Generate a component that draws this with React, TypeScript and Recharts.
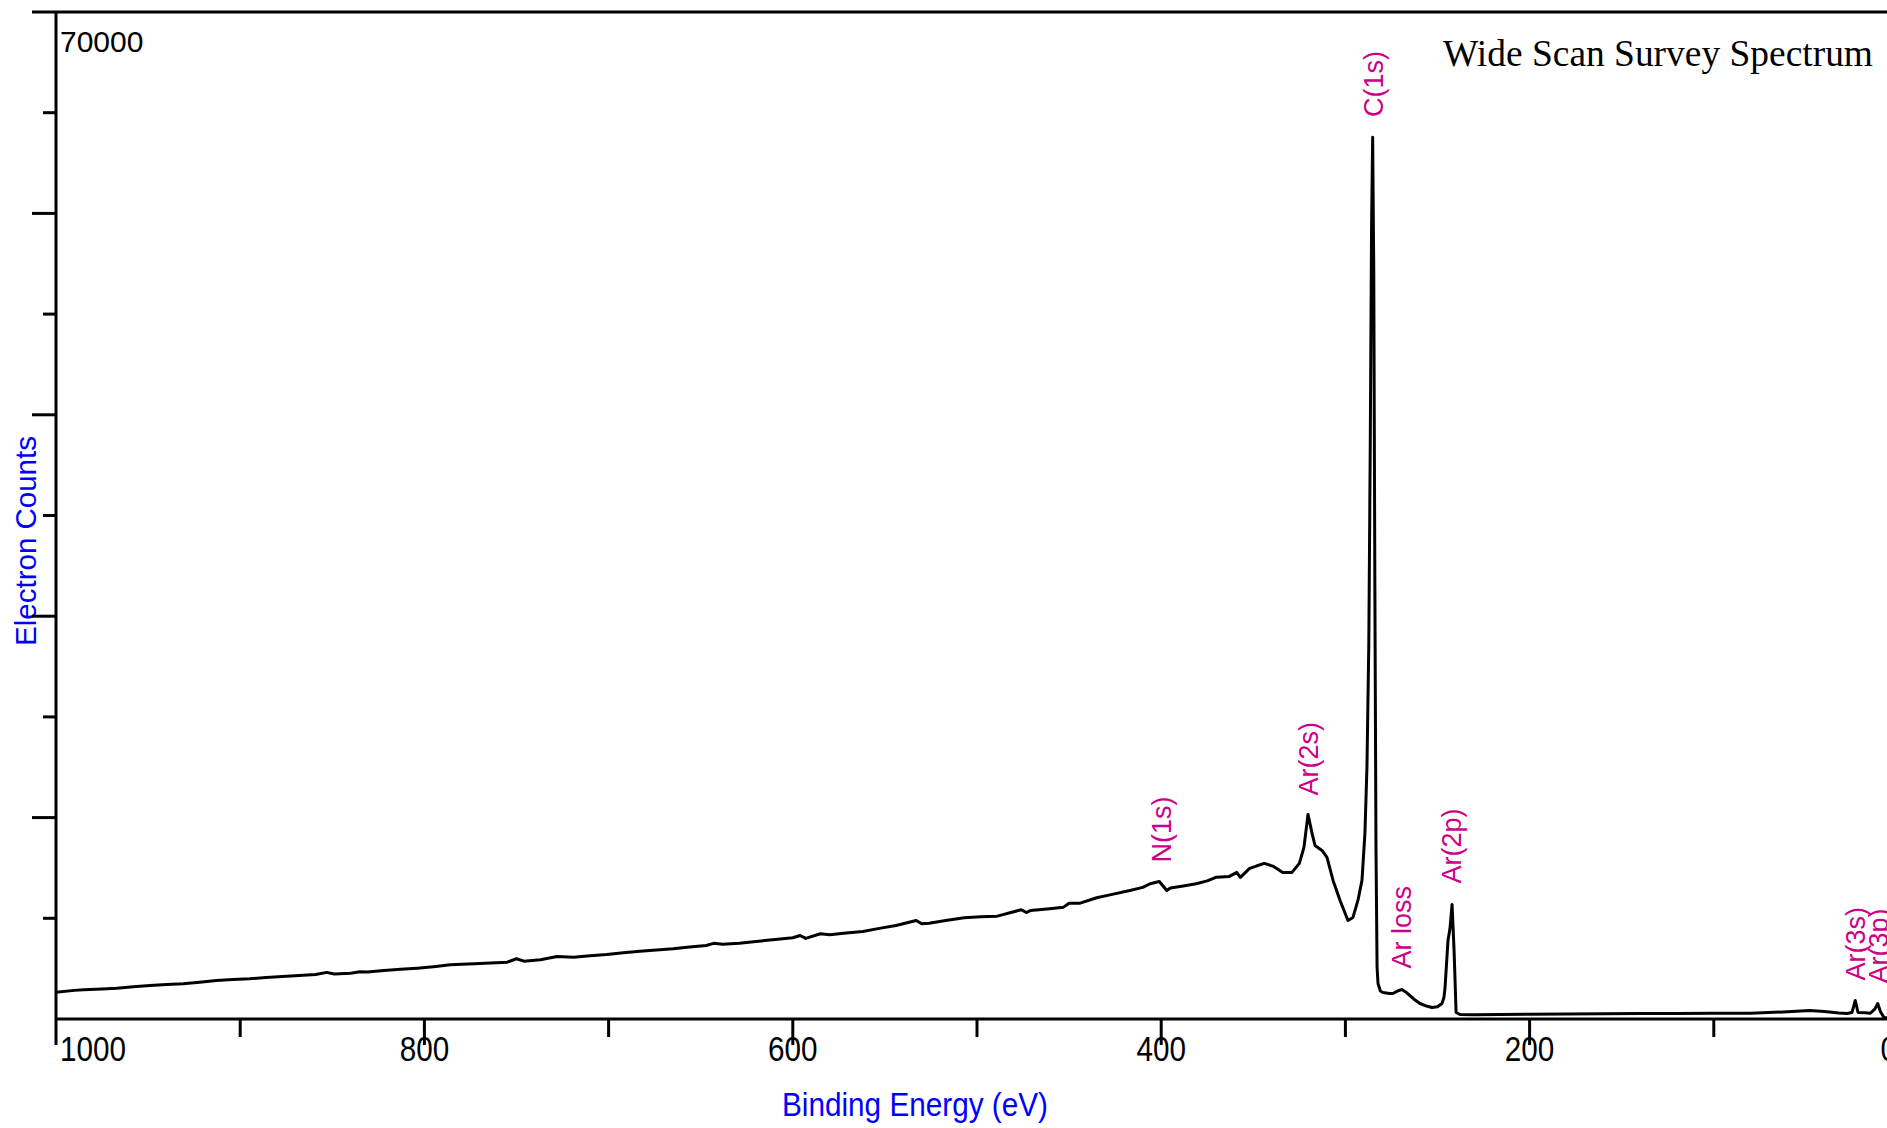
import React from 'react';
import { LineChart, Line, XAxis, YAxis, ReferenceLine, ReferenceDot, Customized } from 'recharts';

// Binding energy (eV) and electron counts of the survey scan
const energies = [
  1000, 990, 985, 975, 967, 958, 949, 940, 931, 922, 913, 904, 895, 886, 877, 868, 859, 853, 849, 840,
  835, 831, 822, 813, 804, 795, 786, 773, 764, 755, 750, 746, 737, 728, 719, 710, 701, 692, 683, 674,
  665, 656, 647, 643, 638, 629, 620, 611, 600, 596, 593, 585, 580, 571, 562, 553, 544, 533, 530, 526,
  517, 507, 498, 489, 476, 473, 471, 462, 453, 450, 444, 435, 426, 417, 410, 406, 401, 397, 395, 388,
  381, 375, 370, 363, 359, 357, 352, 348, 344, 339, 334, 329, 325, 322.5, 320.3, 318.1, 316.5, 312.7, 310, 306.7,
  302.9, 298.6, 295.9, 293.2, 291, 289.4, 288.3, 287.3, 286.5, 285.8, 285.2, 284.6, 284, 283.4, 282.8, 282.3, 281, 279.6, 276, 274.2,
  271.5, 269.3, 267, 265, 262, 259.5, 256, 253, 250, 247.6, 246.5, 245.9, 244.3, 243.2, 242.1, 241, 239.9, 237.8, 230, 216,
  200, 180, 160, 140, 120, 100, 80, 60, 48, 40, 32, 27.7, 25, 23.2, 21.7, 18, 15, 12.5, 11, 9.5,
  7.6, 5, 0,
];

const counts = [
  1864, 1990, 2031, 2090, 2142, 2240, 2330, 2390, 2448, 2560, 2678, 2740, 2796, 2880, 2956, 3020, 3095, 3240, 3130, 3185,
  3290, 3260, 3373, 3450, 3533, 3640, 3770, 3839, 3900, 3950, 4187, 4020, 4117, 4347, 4298, 4400, 4486, 4600, 4716, 4800,
  4882, 5000, 5112, 5260, 5190, 5272, 5390, 5508, 5650, 5807, 5600, 5925, 5856, 5970, 6086, 6300, 6503, 6851, 6620, 6663,
  6850, 7039, 7100, 7150, 7595, 7400, 7546, 7650, 7776, 8050, 8050, 8429, 8680, 8937, 9150, 9403, 9563, 8937, 9100, 9250,
  9403, 9600, 9862, 9911, 10189, 9842, 10467, 10650, 10815, 10606, 10189, 10189, 10815, 11928, 14223, 12902, 12067, 11719, 11233, 9633,
  8242, 6851, 7060, 8242, 9633, 12900, 17500, 26000, 40000, 55000, 61300, 52000, 30000, 12000, 3600, 2470, 1950, 1843, 1780, 1773,
  1950, 2052, 1850, 1634, 1300, 1078, 900, 800, 850, 1078, 1500, 2191, 5460, 6300, 7964, 4764, 452, 313, 300, 313,
  330, 340, 360, 380, 390, 400, 403, 500, 591, 520, 420, 382, 450, 1287, 452, 440, 400, 700, 1078, 500,
  104, 80, 60,
];

const xTicks = [1000, 900, 800, 700, 600, 500, 400, 300, 200, 100, 0];
const yTicks = [0, 7000, 14000, 21000, 28000, 35000, 42000, 49000, 56000, 63000, 70000];

// Peak annotations: name, energy and the count level where the label starts
const peakNames = ['N(1s)', 'Ar(2s)', 'C(1s)', 'Ar loss', 'Ar(2p)', 'Ar(3s)', 'Ar(3p)'];
const peakEnergies = [400, 320, 284.5, 269.3, 242.1, 22.8, 10.3];
const peakLabelCounts = [10885, 15545, 62700, 3512, 9424, 2678, 2469];

const spectrum = energies.map((e, i) => ({ energy: e, counts: counts[i] }));

const SANS = '"Liberation Sans", Arial, Helvetica, sans-serif';
const SERIF = '"Liberation Serif", "Times New Roman", Times, serif';
const PEAK_COLOR = '#cc0088';
const AXIS_BLUE = '#0000ff';

function XTick(props: any) {
  const { x, y, payload } = props;
  const v = payload.value as number;
  const major = v % 200 === 0;
  const len = major ? 26 : 18;
  const label = String(v);
  let anchor: 'start' | 'middle' | 'end' = 'middle';
  let tx = x;
  if (v === 1000) {
    anchor = 'start';
    tx = x + 4;
  } else if (v === 0) {
    anchor = 'end';
    tx = x - 1;
  }
  return (
    <g>
      <line x1={x} x2={x} y1={y} y2={y + len} stroke="#000" strokeWidth={3} />
      {major && (
        <text
          x={tx}
          y={y + 42}
          textAnchor={anchor}
          fontFamily={SANS}
          fontSize={35}
          fill="#000"
          textLength={label.length * 16.5}
          lengthAdjust="spacingAndGlyphs"
        >
          {label}
        </text>
      )}
    </g>
  );
}

function YTick(props: any) {
  const { x, y, payload } = props;
  const v = payload.value as number;
  if (v === 0) return <g />;
  const major = v % 14000 === 0;
  const len = major ? 24 : 13;
  return (
    <g>
      <line x1={x - len} x2={x} y1={y} y2={y} stroke="#000" strokeWidth={3} />
      {v === 70000 && (
        <text x={x + 4} y={y + 40} textAnchor="start" fontFamily={SANS} fontSize={30} fill="#000">
          70000
        </text>
      )}
    </g>
  );
}

function PeakLabel(name: string) {
  return (p: any) => (
    <text
      x={p.cx}
      y={p.cy}
      dy="0.35em"
      transform={`rotate(-90 ${p.cx} ${p.cy})`}
      textAnchor="start"
      fill={PEAK_COLOR}
      fontFamily={SANS}
      fontSize={27}
    >
      {name}
    </text>
  );
}

function Title() {
  return (
    <text
      x={1873}
      y={66}
      textAnchor="end"
      fontFamily={SERIF}
      fontSize={38}
      fill="#000"
      textLength={430}
      lengthAdjust="spacingAndGlyphs"
    >
      Wide Scan Survey Spectrum
    </text>
  );
}

export default function App() {
  return (
    <div
      style={{
        position: 'fixed',
        left: 0,
        top: 0,
        width: 1887,
        height: 1128,
        overflow: 'hidden',
        background: '#fff',
      }}
    >
      <LineChart
        width={1950}
        height={1128}
        data={spectrum}
        margin={{ top: 12, right: 52, left: 0, bottom: 0 }}
      >
        <XAxis
          dataKey="energy"
          type="number"
          domain={[0, 1000]}
          reversed
          ticks={xTicks}
          interval={0}
          height={109}
          tickSize={0}
          tickMargin={0}
          tickLine={false}
          axisLine={{ stroke: '#000', strokeWidth: 3 }}
          tick={<XTick />}
          label={{
            content: () => (
              <text
                x={782}
                y={1116}
                textAnchor="start"
                fontFamily={SANS}
                fontSize={34}
                fill={AXIS_BLUE}
                textLength={266}
                lengthAdjust="spacingAndGlyphs"
              >
                Binding Energy (eV)
              </text>
            ),
          }}
        />
        <YAxis
          type="number"
          domain={[0, 70000]}
          ticks={yTicks}
          interval={0}
          width={56}
          tickSize={0}
          tickMargin={0}
          tickLine={false}
          axisLine={{ stroke: '#000', strokeWidth: 3 }}
          tick={<YTick />}
          label={{
            content: () => (
              <text
                x={36}
                y={541}
                transform="rotate(-90 36 541)"
                textAnchor="middle"
                fontFamily={SANS}
                fontSize={29.5}
                fill={AXIS_BLUE}
              >
                Electron Counts
              </text>
            ),
          }}
        />
        <ReferenceLine y={70000} stroke="#000" strokeWidth={3} ifOverflow="visible" />
        <Line
          type="linear"
          dataKey="counts"
          stroke="#000"
          strokeWidth={3}
          strokeLinejoin="round"
          dot={false}
          isAnimationActive={false}
        />
        {peakNames.map((name, i) => (
          <ReferenceDot
            key={name}
            x={peakEnergies[i]}
            y={peakLabelCounts[i]}
            r={0}
            ifOverflow="visible"
            shape={PeakLabel(name)}
          />
        ))}
        <Customized component={Title} />
      </LineChart>
    </div>
  );
}
